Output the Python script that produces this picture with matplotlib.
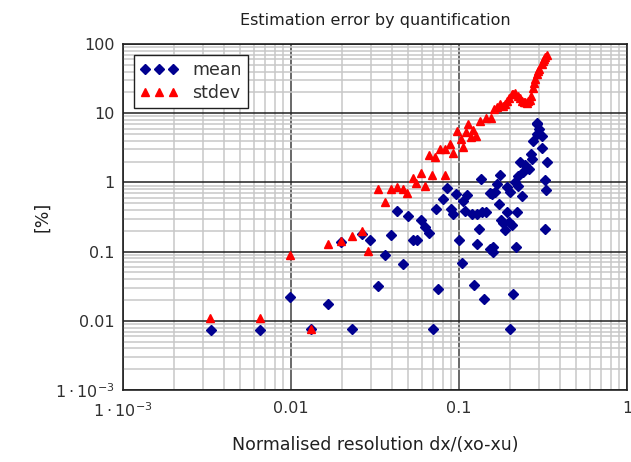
import matplotlib
matplotlib.use("Agg")
import matplotlib.pyplot as plt
from matplotlib.ticker import FixedLocator, LogLocator, NullFormatter

plt.rcParams["font.family"] = ["DejaVu Sans"]

# mean error (blue diamonds)
mean_x = [0.00334, 0.00654, 0.00986, 0.0132, 0.0166, 0.0198, 0.0231, 0.0263, 0.0297, 0.0365,
          0.033, 0.0396, 0.043, 0.0464, 0.0494, 0.0535, 0.056, 0.059, 0.0628, 0.0663,
          0.0753, 0.070, 0.073, 0.080, 0.0843, 0.0896, 0.0925, 0.096, 0.100, 0.1035,
          0.1057, 0.112, 0.1093, 0.119, 0.1275, 0.1285, 0.132, 0.122, 0.140, 0.1448,
          0.1365, 0.152, 0.159, 0.160, 0.153, 0.164, 0.172, 0.179, 0.187, 0.192,
          0.199, 0.208, 0.2206, 0.218, 0.211, 0.200, 0.194, 0.223, 0.236, 0.323,
          0.330, 0.293, 0.301, 0.290, 0.277, 0.311, 0.310, 0.268, 0.271, 0.333,
          0.232, 0.247, 0.261, 0.241, 0.225, 0.215, 0.325, 0.175, 0.135, 0.201,
          0.1675, 0.1565, 0.1835, 0.290]
mean_y = [0.0074, 0.0074, 0.0221, 0.0077, 0.0176, 0.137, 0.0076, 0.182, 0.146, 0.0891,
          0.0319, 0.176, 0.383, 0.0672, 0.324, 0.145, 0.145, 0.284, 0.229, 0.185,
          0.0286, 0.0076, 0.418, 0.569, 0.82, 0.418, 0.355, 0.688, 0.145, 0.0695,
          0.533, 0.65, 0.383, 0.355, 0.355, 0.130, 0.209, 0.0324, 0.0205, 0.374,
          0.374, 0.1086, 0.0984, 0.117, 0.706, 0.725, 0.49, 0.284, 0.204, 0.374,
          0.268, 0.240, 0.370, 0.117, 0.0243, 0.0076, 0.856, 0.876, 0.629, 0.209,
          0.767, 7.18, 5.93, 5.02, 4.02, 4.75, 3.14, 2.59, 2.19, 2.0,
          1.97, 1.76, 1.57, 1.41, 1.23, 1.01, 1.07, 1.26, 1.13, 0.725,
          0.958, 0.688, 0.255, 7.0]

# standard deviation (red triangles)
stdev_x = [0.0033, 0.00656, 0.0098, 0.0132, 0.0166, 0.0198, 0.0230, 0.0263, 0.0288, 0.033,
           0.0363, 0.0392, 0.043, 0.0462, 0.0493, 0.0535, 0.0555, 0.059, 0.0628, 0.0688,
           0.0826, 0.066, 0.072, 0.077, 0.0826, 0.0884, 0.0917, 0.0969, 0.1028, 0.105,
           0.110, 0.1136, 0.118, 0.127, 0.1217, 0.1334, 0.145, 0.155, 0.162, 0.175,
           0.188, 0.192, 0.2056, 0.215, 0.2254, 0.237, 0.247, 0.259, 0.268, 0.275,
           0.283, 0.290, 0.300, 0.310, 0.322, 0.333, 0.168, 0.183, 0.199, 0.210,
           0.231, 0.243, 0.255, 0.265, 0.279, 0.295, 0.315, 0.327]
stdev_y = [0.0109, 0.0109, 0.089, 0.0076, 0.13, 0.142, 0.168, 0.197, 0.103, 0.81,
           0.52, 0.81, 0.853, 0.81, 0.70, 1.17, 0.98, 1.39, 0.88, 1.26,
           1.26, 2.45, 2.33, 3.05, 3.05, 3.6, 2.66, 5.47, 4.25, 3.3,
           5.4, 7.06, 4.6, 4.75, 5.8, 7.8, 8.5, 8.6, 11.5, 13.6,
           13.6, 15.1, 18.9, 19.3, 17.8, 15.1, 14.3, 14.9, 17.8, 23.5,
           31.0, 36.6, 43.3, 51.1, 60.2, 69.4, 12.4, 12.8, 16.7, 19.0,
           16.7, 14.6, 14.1, 15.6, 27.5, 40.2, 56.0, 65.0]

x_ticks = [1e-3, 0.01, 0.1, 1]
x_labels = [r"$1\cdot10^{-3}$", "0.01", "0.1", "1"]
y_ticks = [1e-3, 0.01, 0.1, 1, 10, 100]
y_labels = [r"$1\cdot10^{-3}$", "0.01", "0.1", "1", "10", "100"]

fig = plt.figure(figsize=(6.31, 4.62), dpi=100)
ax = fig.add_axes([123 / 631, 72 / 462, 504 / 631, 346 / 462])

ax.plot(mean_x, mean_y, linestyle="none", marker="D", markersize=5.5,
        color="#000090", markeredgecolor="#000090", label="mean", zorder=3)
ax.plot(stdev_x, stdev_y, linestyle="none", marker="^", markersize=5.3,
        color="#ff0000", markeredgecolor="#ff0000", label="stdev", zorder=4)

ax.set_xscale("log")
ax.set_yscale("log")
ax.set_xlim(1e-3, 1)
ax.set_ylim(1e-3, 100)

ax.xaxis.set_major_locator(FixedLocator(x_ticks))
ax.set_xticklabels(x_labels)
ax.yaxis.set_major_locator(FixedLocator(y_ticks))
ax.set_yticklabels(y_labels)
ax.xaxis.set_minor_locator(LogLocator(base=10, subs=range(2, 10), numticks=20))
ax.yaxis.set_minor_locator(LogLocator(base=10, subs=range(2, 10), numticks=20))
ax.xaxis.set_minor_formatter(NullFormatter())
ax.yaxis.set_minor_formatter(NullFormatter())

ax.tick_params(which="both", length=0, labelsize=11.5, colors="#303030")
ax.tick_params(axis="x", pad=8)
ax.tick_params(axis="y", pad=6)

ax.set_axisbelow(True)
ax.grid(which="minor", color="#c8c8c8", linewidth=1.1)
ax.yaxis.grid(which="major", color="#202020", linewidth=1.1)
ax.xaxis.grid(which="major", color="#404040", linewidth=1.1)
for s in ax.spines.values():
    s.set_color("#202020")
    s.set_linewidth(1.2)

ax.set_title("Estimation error by quantification", fontsize=11.5, color="#202020", pad=14)
ax.set_xlabel("Normalised resolution dx/(xo-xu)", fontsize=12.5, color="#202020", labelpad=12)
ax.set_ylabel("[%]", fontsize=12.5, color="#202020", labelpad=3)

leg = ax.legend(loc="upper left", bbox_to_anchor=(11 / 504, 1 - 11 / 346),
                borderaxespad=0, numpoints=3, fontsize=12.5, fancybox=False,
                edgecolor="#202020", framealpha=1, handlelength=2.2,
                handletextpad=0.8, borderpad=0.35, labelspacing=0.3)
leg.get_frame().set_linewidth(1.0)
for t in leg.get_texts():
    t.set_color("#303030")

fig.savefig("out.png", dpi=100)
